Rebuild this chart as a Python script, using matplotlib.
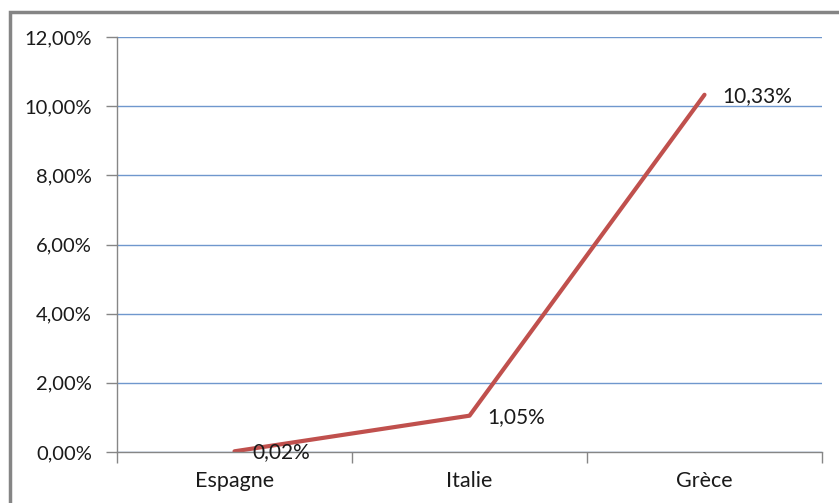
import matplotlib.pyplot as plt
import matplotlib.patches as mpatches
from matplotlib.ticker import FixedLocator, FuncFormatter

# Data
pays = ['Espagne', 'Italie', 'Grèce']
taux = [0.02, 1.05, 10.33]
etiquettes = ['0,02%', '1,05%', '10,33%']

plt.rcParams['font.family'] = ['Lato', 'DejaVu Sans']
couleur_texte = '#1a1a1a'

fig = plt.figure(figsize=(8.39, 5.03), dpi=100)
ax = fig.add_axes([117/839, 1 - 452/503, (822 - 117)/839, (452 - 37)/503])

x = list(range(len(pays)))
ax.plot(x, taux, color='#C0504D', lw=3, solid_capstyle='round')

for xi, yi, lab in zip(x, taux, etiquettes):
    ax.annotate(lab, (xi, yi), xytext=(18, -1), textcoords='offset pixels',
                ha='left', va='center', fontsize=15, color=couleur_texte)

ax.set_xlim(-0.5, len(pays) - 0.5)
ax.set_ylim(0, 12)

# y axis
ax.set_yticks([0, 2, 4, 6, 8, 10, 12])
ax.yaxis.set_major_formatter(FuncFormatter(lambda v, p: f'{v:.2f}%'.replace('.', ',')))
ax.yaxis.grid(True, color='#6F97CD', lw=1)
ax.set_axisbelow(True)

# x axis: ticks at category boundaries, labels at centres
ax.xaxis.set_major_locator(FixedLocator([-0.5, 0.5, 1.5, 2.5]))
ax.xaxis.set_minor_locator(FixedLocator(x))
ax.set_xticklabels([], minor=False)
ax.set_xticklabels(pays, minor=True)
ax.tick_params(axis='x', which='major', length=8, color='#868686', width=1)
ax.tick_params(axis='x', which='minor', length=0, pad=14, labelsize=15.5,
               labelcolor=couleur_texte)
ax.tick_params(axis='y', length=8, color='#868686', width=1, pad=10,
               labelsize=14.5, labelcolor=couleur_texte)

for s in ['top', 'right']:
    ax.spines[s].set_visible(False)
for s in ['left', 'bottom']:
    ax.spines[s].set_color('#868686')
    ax.spines[s].set_linewidth(1)

# outer frame of the chart (cut off on the right and bottom)
cadre = mpatches.Rectangle((10/839, -0.1), 1.0, (503 - 12)/503 + 0.1,
                           transform=fig.transFigure, fill=False,
                           edgecolor='#858585', lw=2.5)
fig.patches.append(cadre)

fig.savefig('out.png', dpi=100)
